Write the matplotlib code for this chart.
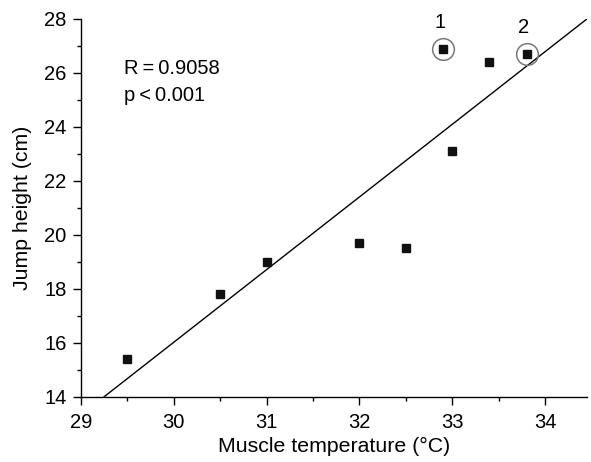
import numpy as np
import matplotlib.pyplot as plt

plt.rcParams['font.family'] = ['Liberation Sans', 'DejaVu Sans']

# data
temp = [29.5, 30.5, 31.0, 32.0, 32.5, 33.0, 32.9, 33.4, 33.8]
jump = [15.4, 17.8, 19.0, 19.7, 19.5, 23.1, 26.9, 26.4, 26.7]
circled_idx = [6, 8]
circled_labels = ['1', '2']
fit_x = [29.25, 34.45]
fit_y = [14.0, 28.0]

fig = plt.figure(figsize=(5.91, 4.62), dpi=100)
ax = fig.add_axes([0.137, 0.1413, 0.856, 0.8176])

ax.plot(fit_x, fit_y, color='black', lw=1.0)
ax.plot(temp, jump, 's', color='#111111', ms=5.2, clip_on=False)

for i, lab in zip(circled_idx, circled_labels):
    ax.plot(temp[i], jump[i], 'o', ms=15.6, mfc='none', mec='#777777', mew=1.1, clip_on=False)
    ax.text(temp[i] - 0.03, jump[i] + 0.62, lab, ha='center', va='bottom', fontsize=14.5)

ax.text(29.46, 25.96, 'R\u2009=\u20090.9058', fontsize=14.5, va='baseline')
ax.text(29.46, 24.97, 'p\u2009<\u20090.001', fontsize=14.5, va='baseline')

ax.set_xlim(29, 34.45)
ax.set_ylim(14, 28)
ax.set_xticks(np.arange(29, 35, 1))
ax.set_xticks(np.arange(29.5, 34.5, 1), minor=True)
ax.set_yticks(np.arange(14, 29, 2))
ax.set_yticks(np.arange(15, 28, 2), minor=True)

for s in ['top', 'right']:
    ax.spines[s].set_visible(False)
for s in ['left', 'bottom']:
    ax.spines[s].set_linewidth(1.0)

ax.tick_params(which='major', direction='out', length=5.5, width=1, labelsize=14.5)
ax.tick_params(which='minor', direction='out', length=3, width=1)
ax.tick_params(axis='x', which='major', pad=6.5)
ax.tick_params(axis='y', which='major', pad=5)

ax.set_xlabel('Muscle temperature (°C)', fontsize=15.3, labelpad=3)
ax.set_ylabel('Jump height (cm)', fontsize=15.3, labelpad=9)

fig.savefig('out.png', dpi=100)
